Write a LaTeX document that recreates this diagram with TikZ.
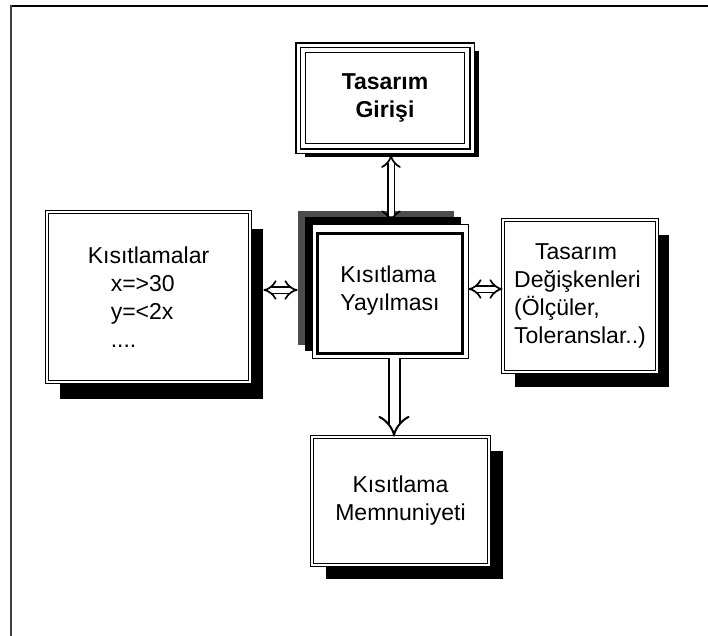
\documentclass[tikz,border=0pt]{standalone}
\usepackage{fontspec}
\setmainfont{Liberation Sans}
\usetikzlibrary{arrows.meta,shadows}

\tikzset{
  txt/.style={font=\fontsize{23}{28}\selectfont},
  blackshadow/.style 2 args={drop shadow={shadow xshift=#1, shadow yshift=#2, fill=black, opacity=1}},
  dbox/.style={draw, line width=0.8pt, double=white, double distance=2pt, fill=white, inner sep=0pt, txt},
  dblarrow/.style={draw, line width=1.7pt, double=white, double distance=5pt,
                   {Implies}-{Implies}},
  downarrow/.style={draw, line width=2pt, double=white, double distance=9pt, -{Implies}},
}

\begin{document}
\begin{tikzpicture}[x=1pt,y=-1pt]
\useasboundingbox (0,0) rectangle (708,635);

% outer frame (open to the right and bottom)
\draw[line width=2pt] (10,6) -- (715,6);
\draw[line width=2.5pt, black!75] (11,5) -- (11,640);

% design input
\node[draw, line width=1.5pt, double=white, double distance=3pt, fill=white,
      minimum width=174pt, minimum height=106pt, inner sep=0pt, align=center,
      font=\fontsize{23}{28}\selectfont\bfseries,
      blackshadow={7pt}{-6pt}] (gir) at (385,98) {Tasarım\\Girişi};
\draw[line width=1.2pt] ([shift={(8,8)}]gir.north west) rectangle ([shift={(-8,-8)}]gir.south east);

% constraints
\node[dbox, minimum width=203pt, minimum height=170pt, align=left,
      blackshadow={13pt}{-17pt}] (kis) at (148.5,297)
      {Kısıtlamalar\\\hspace*{23pt}x=>30\\\hspace*{23pt}y=<2x\\\hspace*{23pt}....};

% design variables
\node[dbox, minimum width=154pt, minimum height=152pt, align=left,
      blackshadow={12pt}{-15pt}] (var) at (580,296)
      {\hspace*{21pt}Tasarım\\Değişkenleri\\(Ölçüler,\\Toleranslar..)};

% constraint satisfaction
\node[dbox, minimum width=177pt, minimum height=128pt, align=center,
      blackshadow={14pt}{-14pt}] (mem) at (400.5,501) {Kısıtlama\\Memnuniyeti};

% constraint propagation (central block with grey and black layers behind)
\node[draw, line width=0.8pt, fill=white, minimum width=156pt, minimum height=134pt,
      inner sep=0pt, align=left, txt,
      drop shadow={shadow xshift=-14pt, shadow yshift=13pt, fill=black!70, opacity=1},
      drop shadow={shadow xshift=-7pt, shadow yshift=7pt, fill=black, opacity=1}]
      (yay) at (390,291) {Kısıtlama\\Yayılması};
\draw[line width=3.5pt] ([shift={(6,10)}]yay.north west) rectangle ([shift={(-6,-5)}]yay.south east);

% connectors
\draw[dblarrow, shorten <=3pt] ([xshift=6pt]gir.south) -- ([xshift=6pt]gir.south |- yay.north);
\draw[dblarrow, shorten <=13pt, shorten >=14pt] ([yshift=7pt]kis.east) -- ([yshift=7pt]kis.east -| yay.west);
\draw[dblarrow] ([yshift=2pt]yay.east) -- ([yshift=2pt]yay.east -| var.west);
\draw[downarrow] ([xshift=4pt]yay.south) -- ([xshift=4pt]yay.south |- mem.north);
\end{tikzpicture}
\end{document}
